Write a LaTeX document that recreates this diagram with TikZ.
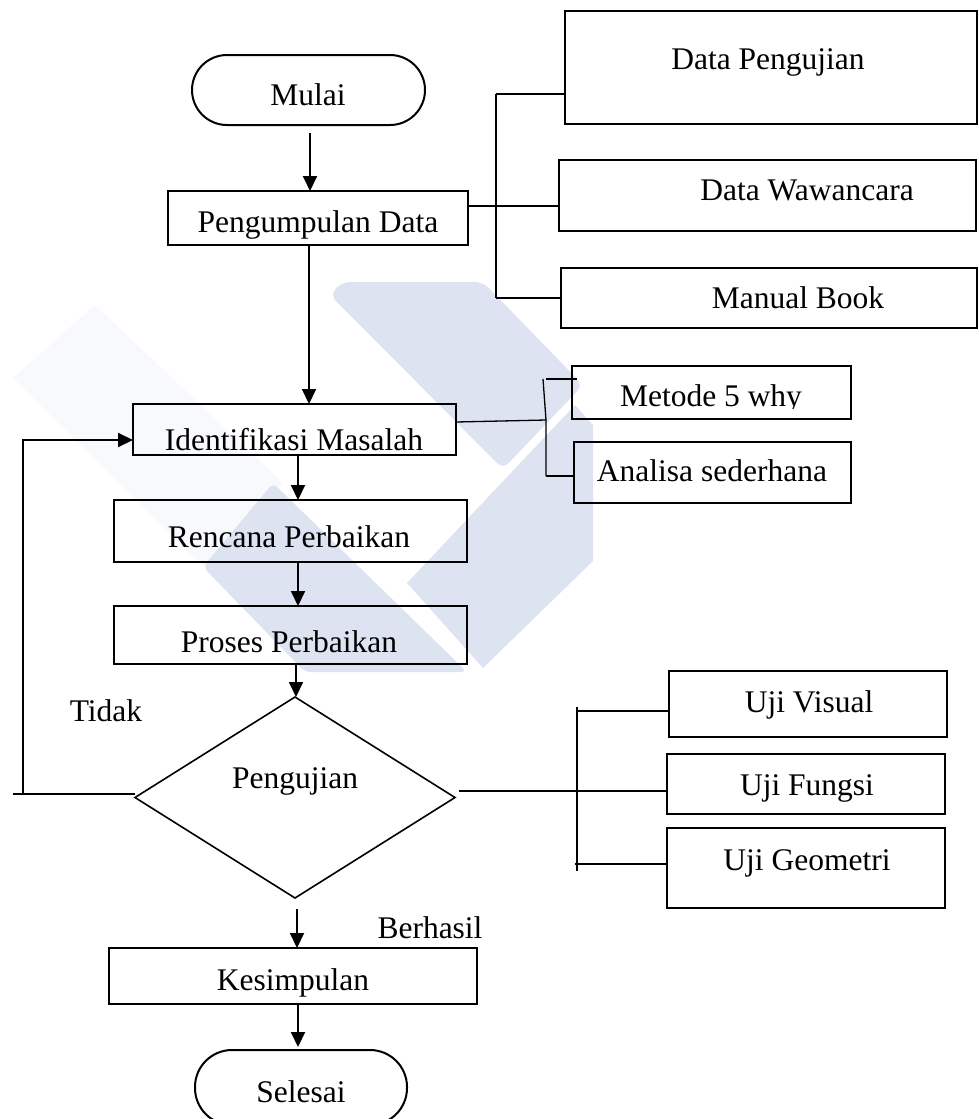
\documentclass[tikz,border=0pt]{standalone}
\usepackage{fontspec}
\setmainfont{Liberation Serif}
\usetikzlibrary{arrows.meta,shapes.geometric}
\definecolor{wmblue}{RGB}{221,227,241}
\definecolor{wmfaint}{RGB}{248,249,252}

% box given by its corners: style, name, x1, y1, x2, y2
\newcommand\placebox[6]{%
  \node[#1, minimum width={(#5-#3)*1pt}, minimum height={(#6-#4)*1pt}]
    (#2) at ({(#3+#5)/2},{(#4+#6)/2}) {};}

\begin{document}
\begin{tikzpicture}[x=1pt,y=-1pt,
  box/.style={draw, line width=2pt, inner sep=0pt, outer sep=0pt},
  term/.style={box, rounded corners=35pt},
  lbl/.style={font=\fontsize{31.5}{36}\selectfont, inner sep=0pt, anchor=base},
  arr/.style={line width=2pt, -{Triangle[length=15pt,width=14pt]}},
  ln/.style={line width=1.8pt},
]
\useasboundingbox (0,0) rectangle (978,1119);

% background emblem
\fill[wmfaint] (13,378) -- (95,305) -- (283,483) -- (203,567) -- cycle;
\fill[wmblue, rounded corners=8pt] (330,295) -- (342,282) -- (483,282) -- (583,385) -- (503,469) -- cycle;
\fill[wmblue] (407,583) -- (575,405) -- (593,425) -- (593,561) -- (483,668) -- cycle;
\fill[wmblue, rounded corners=6pt] (203,567) -- (273,483) -- (467,672) -- (305,672) -- cycle;

% boxes
\placebox{term}{mulai}{192}{55}{425}{125}
\placebox{box}{pengumpulan}{168}{191}{468}{245}
\placebox{box}{dpeng}{565}{11}{977}{124}
\placebox{box}{wawancara}{559}{160}{976}{231}
\placebox{box}{manual}{561}{268}{977}{328}
\placebox{box}{identifikasi}{133}{404}{456}{455}
\placebox{box}{metode}{572}{366}{851}{419}
\placebox{box}{analisa}{574}{442}{851}{503}
\placebox{box}{rencana}{114}{500}{467}{562}
\placebox{box}{proses}{114}{606}{467}{664}
\node[draw, line width=1.6pt, shape=diamond, inner sep=0pt, outer sep=0pt,
      minimum width=320pt, minimum height=201pt] (uji) at (295,797.5) {};
\placebox{box}{ujivisual}{669}{671}{947}{737}
\placebox{box}{ujifungsi}{667}{754}{945}{814}
\placebox{box}{ujigeometri}{667}{828}{945}{908}
\placebox{box}{kesimpulan}{109}{948}{477}{1004}
\placebox{term, rounded corners=37pt}{selesai}{195}{1050}{407}{1125}

% texts
\node[lbl] (tmulai) at (308,105) {Mulai};
\node[lbl] (tpengumpulan) at (318,232) {Pengumpulan Data};
\node[lbl] (tdpeng) at (768,69) {Data Pengujian};
\node[lbl] (twawancara) at (807,200) {Data Wawancara};
\node[lbl] (tmanual) at (798,308) {Manual Book};
\node[lbl] (tidentifikasi) at (294,450) {Identifikasi Masalah};
\begin{scope}
  \clip (572,366) rectangle (851,408);
  \node[lbl] (tmetode) at (711,406) {Metode 5 why};
\end{scope}
\node[lbl] (tanalisa) at (712,481) {Analisa sederhana};
\node[lbl] (trencana) at (289,547) {Rencana Perbaikan};
\node[lbl] (tproses) at (289,652) {Proses Perbaikan};
\node[lbl] (tuji) at (295,788) {Pengujian};
\node[lbl] (ttidak) at (106,721) {Tidak};
\node[lbl] (tvisual) at (809,712) {Uji Visual};
\node[lbl] (tfungsi) at (807,795) {Uji Fungsi};
\node[lbl] (tgeometri) at (807,870) {Uji Geometri};
\node[lbl] (tberhasil) at (430,938) {Berhasil};
\node[lbl] (tkesimpulan) at (293,990) {Kesimpulan};
\node[lbl] (tselesai) at (301,1102) {Selesai};

% main flow
\draw[arr] ([xshift=1.5pt,yshift=-8pt]mulai.south) -- ([xshift=-8pt]pengumpulan.north);
\draw[arr] ([xshift=-9pt]pengumpulan.south) -- ([xshift=14.5pt]identifikasi.north);
\draw[arr] ([xshift=3.5pt]identifikasi.south) -- ([xshift=7.5pt]rencana.north);
\draw[arr] ([xshift=7.5pt]rencana.south) -- ([xshift=7.5pt]proses.north);
\draw[arr] ([xshift=5.5pt]proses.south) -- ([xshift=1pt]uji.north);
\draw[arr] ([xshift=2pt,yshift=-11pt]uji.south) -- ([xshift=4pt]kesimpulan.north);
\draw[arr] ([xshift=5pt]kesimpulan.south) -- ([xshift=-3pt,yshift=3pt]selesai.north);

% loop back when the test fails
\coordinate (loopend) at (13,794);
\coordinate (loopbot) at (23,794);
\coordinate (looptop) at (23,440);
\draw[ln] ([yshift=3.5pt]uji.west) -- (loopend);
\draw[arr] (loopbot) -- (looptop) -- (looptop -| identifikasi.west);

% data sources
\draw[ln] ([yshift=-26.5pt]dpeng.west) -- ++(-69,0) coordinate (dtop);
\draw[ln] (manual.west) -- ++(-65,0) coordinate (dbot);
\draw[ln] (dtop) -- (dbot);
\draw[ln] ([yshift=12pt]pengumpulan.east) -- ([yshift=-10.5pt]wawancara.west);

% analysis methods
\coordinate (ijoin) at (546,420);
\coordinate (itop) at (543,379);
\coordinate (ibot) at (546,476);
\draw[ln, line width=1.3pt] ([yshift=7.5pt]identifikasi.east) -- (ijoin);
\draw[ln, line width=1.3pt] (itop) -- (ijoin) -- (ibot);
\draw[ln, line width=1.3pt] ([xshift=3pt]itop) -- ([xshift=5pt,yshift=13.5pt]metode.west);
\draw[ln] (ibot) -- ([yshift=-3.5pt]analisa.west);

% test types
\coordinate (utop) at (577,707);
\coordinate (ubot) at (577,871);
\draw[ln] ([xshift=4pt,yshift=6.5pt]uji.east) -- ([yshift=-7pt]ujifungsi.west);
\draw[ln] (utop) -- (ubot);
\draw[ln] ([yshift=-7pt]ujivisual.west) -- ++(-92,0);
\draw[ln] ([yshift=4pt]ujigeometri.west) -- ++(-92,0);
\end{tikzpicture}
\end{document}
